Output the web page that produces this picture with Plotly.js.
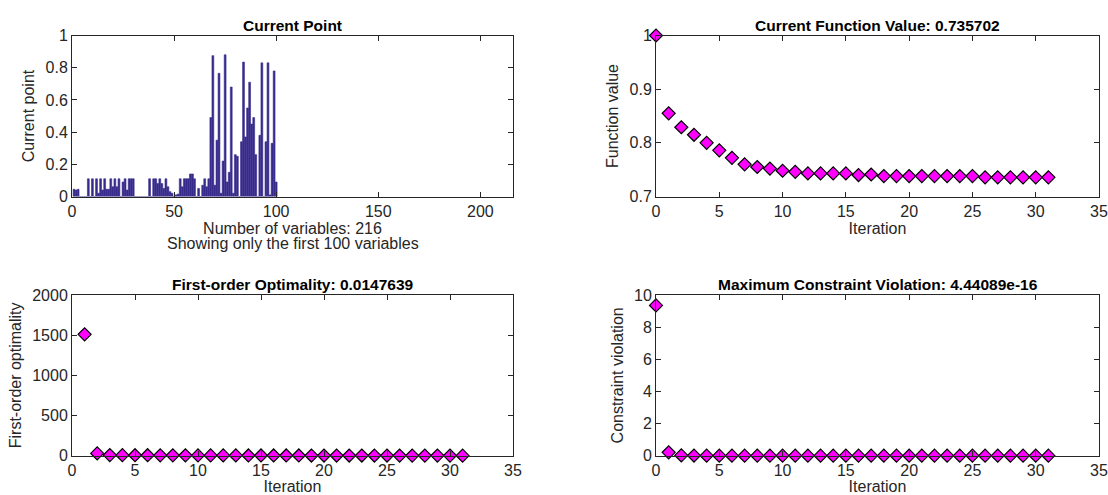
<!DOCTYPE html>
<html>
<head>
<meta charset="utf-8">
<script src="https://cdn.plot.ly/plotly-3.0.1.min.js"></script>
<style>
  html, body { margin: 0; padding: 0; background: #fff; }
  #chart { width: 1108px; height: 495px; }
</style>
</head>
<body>
<div id="chart"></div>
<script>
// Current point: first 100 of 216 variables
const pointValues = [
  0.045, 0.04, 0.045, 0, 0, 0, 0, 0.11, 0, 0.11,
  0, 0.11, 0.02, 0.11, 0.04, 0.11, 0.045, 0.045, 0.11, 0.06,
  0.11, 0.06, 0.11, 0, 0.09, 0.11, 0.04, 0.11, 0.11, 0.11,
  0, 0, 0, 0, 0, 0, 0, 0.11, 0, 0.11,
  0.11, 0.08, 0.11, 0.08, 0.05, 0.11, 0.06, 0.03, 0.02, 0,
  0.01, 0.015, 0.11, 0.06, 0.11, 0.11, 0.11, 0.14, 0.14, 0.11,
  0, 0.05, 0, 0.07, 0.11, 0.06, 0.11, 0.49, 0.875, 0.07,
  0.35, 0.765, 0.02, 0.22, 0.88, 0.09, 0.15, 0.68, 0.02, 0.26,
  0.25, 0, 0.34, 0.835, 0.37, 0.55, 0.71, 0.45, 0.49, 0.26,
  0, 0.38, 0.83, 0, 0.34, 0.83, 0.01, 0.33, 0.78, 0.09
];
const numVariables = 216;

// Objective per iteration (0..31)
const fvalIter = [0,1,2,3,4,5,6,7,8,9,10,11,12,13,14,15,16,17,18,19,20,21,22,23,24,25,26,27,28,29,30,31];
const fvalValues = [
  1.0, 0.855, 0.829, 0.815, 0.800, 0.786, 0.772, 0.760, 0.755, 0.752,
  0.748, 0.746, 0.743, 0.743, 0.743, 0.743, 0.740, 0.741, 0.738, 0.738,
  0.738, 0.738, 0.738, 0.738, 0.738, 0.738, 0.7357, 0.7357, 0.7357, 0.7357,
  0.7357, 0.735702
];

// First-order optimality per iteration (1..31)
const optIter = [1,2,3,4,5,6,7,8,9,10,11,12,13,14,15,16,17,18,19,20,21,22,23,24,25,26,27,28,29,30,31];
const optValues = [
  1510, 28, 8, 7, 6, 6, 5, 5, 5, 4,
  4, 4, 4, 3, 3, 3, 3, 3, 2, 2,
  2, 2, 2, 2, 2, 1, 1, 1, 1, 1, 0.0147639
];

// Maximum constraint violation per iteration (0..31)
const cvIter = fvalIter;
const cvValues = [
  9.35, 0.21, 0.02, 0.01, 0, 0, 0, 0, 0, 0,
  0, 0, 0, 0, 0, 0, 0, 0, 0, 0,
  0, 0, 0, 0, 0, 0, 0, 0, 0, 0,
  0, 4.44089e-16
];

const titles = [
  'Current Point',
  'Current Function Value: 0.735702',
  'First-order Optimality: 0.0147639',
  'Maximum Constraint Violation: 4.44089e-16'
];

const TXT = '#262626';
const FONT = 'Liberation Sans, Arial, Helvetica, sans-serif';
const W = 1108, H = 495;
const LABEL_SIZE = 16;
const BAR_COLOR = '#372b8c';

const barIdx = pointValues.map((_, i) => i + 1);

const marker = {
  symbol: 'diamond',
  size: 10,
  color: '#ff00ff',
  line: { color: '#000000', width: 1.2 }
};

const traces = [
  { type: 'bar', x: barIdx, y: pointValues, xaxis: 'x', yaxis: 'y',
    width: 0.9, marker: { color: BAR_COLOR, line: { color: BAR_COLOR, width: 0.6 } } },
  { type: 'scatter', mode: 'markers', x: fvalIter, y: fvalValues, xaxis: 'x2', yaxis: 'y2', marker, cliponaxis: false },
  { type: 'scatter', mode: 'markers', x: optIter, y: optValues, xaxis: 'x3', yaxis: 'y3', marker, cliponaxis: false },
  { type: 'scatter', mode: 'markers', x: cvIter, y: cvValues, xaxis: 'x4', yaxis: 'y4', marker, cliponaxis: false }
];

// plot boxes in pixels: [left, right, top, bottom]
const boxes = [
  [72, 513, 35.5, 196.5],
  [656, 1099, 35.5, 196.5],
  [72, 513, 295, 455.7],
  [656, 1099, 295, 455.7]
];

function axisBase() {
  return {
    showline: true, linecolor: TXT, linewidth: 1, mirror: 'ticks',
    ticks: 'inside', ticklen: 5, tickcolor: TXT, tickwidth: 1,
    showgrid: false, zeroline: false,
    tickfont: { family: FONT, size: LABEL_SIZE, color: TXT },
    fixedrange: true
  };
}

const layout = {
  width: W, height: H,
  margin: { l: 0, r: 0, t: 0, b: 0 },
  paper_bgcolor: '#ffffff', plot_bgcolor: '#ffffff',
  showlegend: false,
  font: { family: FONT, size: LABEL_SIZE, color: TXT },
  annotations: []
};

const xRanges = [[0, numVariables], [0, 35], [0, 35], [0, 35]];
const yRanges = [[0, 1], [0.7, 1], [0, 2000], [0, 10]];
const yDticks = [0.2, 0.1, 500, 2];
const xDticks = [50, 5, 5, 5];
const xTitles = ['Number of variables: ' + numVariables, 'Iteration', 'Iteration', 'Iteration'];
const yTitles = ['Current point', 'Function value', 'First-order optimality', 'Constraint violation'];

boxes.forEach((b, i) => {
  const n = i === 0 ? '' : String(i + 1);
  const xa = axisBase();
  xa.domain = [b[0] / W, b[1] / W];
  xa.range = xRanges[i];
  xa.dtick = xDticks[i];
  xa.tick0 = 0;
  xa.anchor = 'y' + n;
  xa.title = { text: xTitles[i], font: { family: FONT, size: LABEL_SIZE, color: TXT }, standoff: 0 };
  const ya = axisBase();
  ya.domain = [1 - b[3] / H, 1 - b[2] / H];
  ya.range = yRanges[i];
  ya.dtick = yDticks[i];
  ya.tick0 = 0;
  ya.anchor = 'x' + n;
  ya.title = { text: yTitles[i], font: { family: FONT, size: LABEL_SIZE, color: TXT }, standoff: 6 };
  layout['xaxis' + n] = xa;
  layout['yaxis' + n] = ya;
  layout.annotations.push({
    text: '<b>' + titles[i] + '</b>',
    xref: 'paper', yref: 'paper',
    x: (b[0] + b[1]) / 2 / W, y: 1 - b[2] / H,
    xanchor: 'center', yanchor: 'bottom', showarrow: false,
    font: { family: FONT, size: 15.5, color: '#000000' }
  });
});

// second line under the current-point axis label
layout.annotations.push({
  text: 'Showing only the first ' + pointValues.length + ' variables',
  xref: 'paper', yref: 'paper',
  x: (boxes[0][0] + boxes[0][1]) / 2 / W, y: 1 - 243 / H,
  xanchor: 'center', yanchor: 'middle', showarrow: false,
  font: { family: FONT, size: LABEL_SIZE, color: TXT }
});

Plotly.newPlot('chart', traces, layout, { displayModeBar: false, staticPlot: true });
</script>
</body>
</html>
